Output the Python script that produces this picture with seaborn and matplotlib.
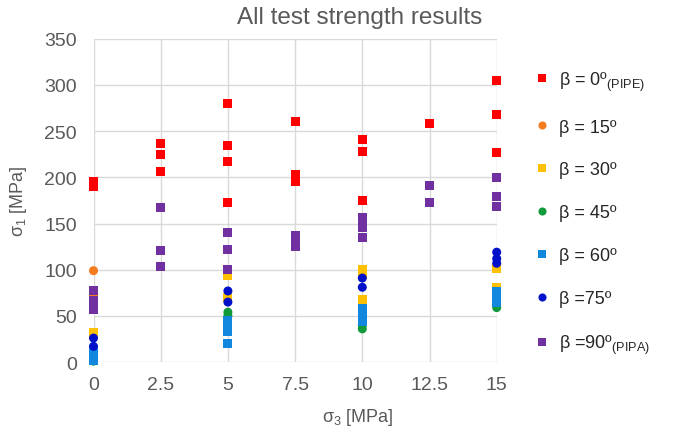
import matplotlib
matplotlib.use("Agg")
import matplotlib.pyplot as plt
import seaborn as sns
import pandas as pd

# ---- data ----
beta_labels = [
    "β = 0º$_{\\mathregular{(PIPE)}}$",
    "β = 15º",
    "β = 30º",
    "β = 45º",
    "β = 60º",
    "β =75º",
    "β =90º$_{\\mathregular{(PIPA)}}$",
]
b0_x = [0, 0, 2.5, 2.5, 2.5, 5, 5, 5, 5, 7.5, 7.5, 7.5, 10, 10, 10, 12.5, 15, 15, 15]
b0_y = [195, 190, 237, 225, 206, 280, 234, 217, 173, 260, 203, 196, 241, 228, 175, 258, 305, 268, 227]
b15_x = [0, 0]
b15_y = [99, 72]
b30_x = [0, 5, 5, 10, 10, 10, 15, 15]
b30_y = [32, 94, 70, 100, 95, 68, 101, 81]
b45_x = [0, 5, 5, 10, 10, 15]
b45_y = [1, 54, 50, 40, 36, 59]
b60_x = [0, 0, 0, 5, 5, 5, 5, 5, 10, 10, 10, 10, 15, 15, 15, 15]
b60_y = [10, 6, 2, 45, 41, 37, 33, 20, 58, 53, 49, 44, 76, 72, 68, 64]
b75_x = [0, 0, 5, 5, 10, 10, 15, 15, 15]
b75_y = [26, 17, 77, 65, 91, 81, 119, 112, 107]
b90_x = [0, 0, 0, 0, 2.5, 2.5, 2.5, 5, 5, 5, 7.5, 7.5, 7.5, 10, 10, 10, 10, 12.5, 12.5, 15, 15, 15]
b90_y = [78, 67, 62, 57, 167, 121, 104, 140, 122, 100, 137, 131, 125, 157, 151, 146, 135, 191, 173, 200, 179, 168]

x_ticks = [0, 2.5, 5, 7.5, 10, 12.5, 15]
x_tick_labels = ["0", "2.5", "5", "7.5", "10", "12.5", "15"]
y_ticks = [0, 50, 100, 150, 200, 250, 300, 350]

series = [(b0_x, b0_y), (b15_x, b15_y), (b30_x, b30_y), (b45_x, b45_y),
          (b60_x, b60_y), (b75_x, b75_y), (b90_x, b90_y)]
rows = []
for lab, (xs, ys) in zip(beta_labels, series):
    for xv, yv in zip(xs, ys):
        rows.append({"s3": xv, "s1": yv, "beta": lab})
df = pd.DataFrame(rows)

colors = ["#FF0000", "#F47B20", "#FFC000", "#109A3A", "#1188DD", "#0010C8", "#7030A0"]
markers = ["s", "o", "s", "o", "s", "o", "s"]

# ---- figure ----
sns.set_theme(style="white")
plt.rcParams["font.family"] = ["Liberation Sans", "DejaVu Sans"]
plt.rcParams["mathtext.fontset"] = "custom"
plt.rcParams["mathtext.rm"] = "Liberation Sans"

fig = plt.figure(figsize=(6.73, 4.39), dpi=100)
ax = fig.add_axes([93.5 / 673, 1 - 363.1 / 439, 403.2 / 673, 323.3 / 439])

sns.scatterplot(data=df, x="s3", y="s1", hue="beta", style="beta",
                hue_order=beta_labels, style_order=beta_labels,
                palette=dict(zip(beta_labels, colors)),
                markers=dict(zip(beta_labels, markers)),
                s=42, linewidth=0, clip_on=False, ax=ax, zorder=3)

ax.set_xlim(0, 15)
ax.set_ylim(0, 350)
ax.set_xticks(x_ticks)
ax.set_xticklabels(x_tick_labels)
ax.set_yticks(y_ticks)
ax.grid(True, color="#D9D9D9", linewidth=1)
ax.set_axisbelow(True)
for sp in ax.spines.values():
    sp.set_visible(False)
ax.tick_params(axis="both", length=0, labelsize=14, colors="#595959")
ax.tick_params(axis="y", pad=12)
ax.tick_params(axis="x", pad=10)

ax.set_xlabel("σ$_3$ [MPa]", fontsize=13, color="#595959")
ax.set_ylabel("σ$_1$ [MPa]", fontsize=13, color="#595959")
ax.xaxis.set_label_coords(0.655, -0.135)
ax.yaxis.set_label_coords(-0.16, 0.5)

fig.text(360 / 673, 1 - 18 / 439, "All test strength results", ha="center", va="center",
         fontsize=17.5, color="#595959")

sns.move_legend(ax, loc="upper left", bbox_to_anchor=(1.055, 0.955), frameon=False,
                title=None, fontsize=13, labelspacing=1.43, handletextpad=0.5,
                handlelength=0.8, markerscale=0.9)

fig.savefig("out.png", dpi=100)
